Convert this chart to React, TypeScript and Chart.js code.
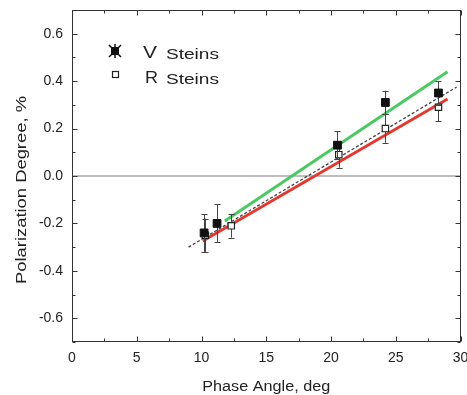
import React, { useEffect, useRef } from 'react';
import { Chart, registerables } from 'chart.js';

Chart.register(...registerables);

// Data
const V_PHASE = [10.2, 11.2, 20.5, 24.2, 28.3];
const V_POL = [-0.24, -0.2, 0.13, 0.31, 0.35];
const V_ERR = [0.08, 0.08, 0.06, 0.05, 0.05];

const R_PHASE = [10.3, 12.3, 20.6, 24.2, 28.3];
const R_POL = [-0.25, -0.21, 0.09, 0.2, 0.29];
const R_ERR = [0.07, 0.05, 0.055, 0.06, 0.06];

const GREEN_FIT_X = [11.8, 29.0];
const GREEN_FIT_Y = [-0.19, 0.44];
const RED_FIT_X = [10.1, 29.0];
const RED_FIT_Y = [-0.274, 0.325];
const BLACK_FIT_X = [9.0, 29.7];
const BLACK_FIT_Y = [-0.3, 0.375];
const ZERO_X = [0, 30];
const ZERO_Y = [0, 0];

const X_TICKS = [0, 5, 10, 15, 20, 25, 30];
const X_MINOR = [2.5, 7.5, 12.5, 17.5, 22.5, 27.5];
const Y_TICKS = [-0.6, -0.4, -0.2, 0, 0.2, 0.4, 0.6];
const Y_MINOR = [-0.7, -0.5, -0.3, -0.1, 0.1, 0.3, 0.5, 0.7];

const X_TITLE = 'Phase Angle, deg';
const Y_TITLE = 'Polarization Degree, %';
const LEGEND_V = ['V', 'Steins'];
const LEGEND_R = ['R', 'Steins'];

const FONT = 'Arial, "Liberation Sans", Helvetica, sans-serif';
const TEXT = '#222';

const pts = (xs: number[], ys: number[]) => xs.map((x, i) => ({ x, y: ys[i] }));

function stretchText(
  ctx: CanvasRenderingContext2D,
  text: string,
  x: number,
  y: number,
  size: number,
  width: number,
  align: CanvasTextAlign,
  rotate = false
) {
  ctx.save();
  ctx.font = `${size}px ${FONT}`;
  const w = ctx.measureText(text).width;
  const sx = width ? width / w : 1;
  ctx.translate(x, y);
  if (rotate) ctx.rotate(-Math.PI / 2);
  ctx.scale(sx, 1);
  ctx.textAlign = align;
  ctx.textBaseline = 'alphabetic';
  ctx.fillStyle = TEXT;
  ctx.fillText(text, 0, 0);
  ctx.restore();
}

const errorBarPlugin = {
  id: 'errorBars',
  beforeDatasetDraw(chart: any, args: any) {
    const ds = chart.data.datasets[args.index];
    if (!ds.errors) return;
    const { ctx, scales } = chart;
    const xs = scales.x;
    const ys = scales.y;
    ctx.save();
    ctx.strokeStyle = '#444';
    ctx.lineWidth = 1;
    ds.data.forEach((p: any, i: number) => {
      const e = ds.errors[i];
      const px = Math.round(xs.getPixelForValue(p.x)) + 0.5;
      const top = ys.getPixelForValue(p.y + e);
      const bot = ys.getPixelForValue(p.y - e);
      ctx.beginPath();
      ctx.moveTo(px, top);
      ctx.lineTo(px, bot);
      ctx.moveTo(px - 3, Math.round(top) + 0.5);
      ctx.lineTo(px + 3, Math.round(top) + 0.5);
      ctx.moveTo(px - 3, Math.round(bot) + 0.5);
      ctx.lineTo(px + 3, Math.round(bot) + 0.5);
      ctx.stroke();
    });
    ctx.restore();
  },
};

const framePlugin = {
  id: 'frame',
  afterDraw(chart: any) {
    const { ctx, chartArea: a, scales } = chart;
    const xs = scales.x;
    const ys = scales.y;
    ctx.save();
    ctx.strokeStyle = '#333';
    ctx.lineWidth = 1;
    const L = Math.round(a.left) + 0.5;
    const R = Math.round(a.right) - 0.5;
    const T = Math.round(a.top) + 0.5;
    const B = Math.round(a.bottom) - 0.5;
    ctx.strokeRect(L, T, R - L, B - T);
    ctx.beginPath();
    const xTick = (v: number, len: number) => {
      const px = Math.round(xs.getPixelForValue(v)) + 0.5;
      ctx.moveTo(px, B);
      ctx.lineTo(px, B - len);
      ctx.moveTo(px, T);
      ctx.lineTo(px, T + len);
    };
    const yTick = (v: number, len: number) => {
      const py = Math.round(ys.getPixelForValue(v)) + 0.5;
      ctx.moveTo(L, py);
      ctx.lineTo(L + len, py);
      ctx.moveTo(R, py);
      ctx.lineTo(R - len, py);
    };
    X_TICKS.forEach((v) => xTick(v, 5));
    X_MINOR.forEach((v) => xTick(v, 3));
    Y_TICKS.forEach((v) => yTick(v, 5));
    Y_MINOR.forEach((v) => yTick(v, 3));
    ctx.stroke();

    // axis titles
    stretchText(ctx, X_TITLE, (a.left + a.right) / 2, 391, 14, 128, 'center');
    stretchText(ctx, Y_TITLE, 26, 190, 14, 188, 'center', true);

    // legend
    ctx.fillStyle = '#111';
    ctx.fillRect(111, 47, 8, 8);
    ctx.strokeStyle = '#111';
    ctx.lineWidth = 1.5;
    ctx.beginPath();
    ctx.moveTo(109, 45);
    ctx.lineTo(121, 57);
    ctx.moveTo(121, 45);
    ctx.lineTo(109, 57);
    ctx.moveTo(115, 44);
    ctx.lineTo(115, 58);
    ctx.stroke();
    ctx.fillStyle = '#fff';
    ctx.fillRect(112, 71, 6, 6);
    ctx.lineWidth = 1.2;
    ctx.strokeStyle = '#222';
    ctx.strokeRect(112.5, 71.5, 6, 6);

    stretchText(ctx, LEGEND_V[0], 143, 58, 17, 14, 'left');
    stretchText(ctx, LEGEND_V[1], 166, 59, 15, 53, 'left');
    stretchText(ctx, LEGEND_R[0], 145, 83, 17, 13, 'left');
    stretchText(ctx, LEGEND_R[1], 166, 84, 15, 53, 'left');
    ctx.restore();
  },
};

export default function App() {
  const ref = useRef<HTMLCanvasElement | null>(null);

  useEffect(() => {
    if (!ref.current) return;
    const chart = new Chart(ref.current, {
      type: 'scatter',
      data: {
        datasets: [
          {
            label: 'V Steins',
            data: pts(V_PHASE, V_POL),
            errors: V_ERR,
            pointStyle: 'rect',
            pointRadius: 5.5,
            backgroundColor: '#111',
            borderColor: '#111',
            borderWidth: 1,
            showLine: false,
            order: 0,
          } as any,
          {
            label: 'R Steins',
            data: pts(R_PHASE, R_POL),
            errors: R_ERR,
            pointStyle: 'rect',
            pointRadius: 4.5,
            backgroundColor: '#fff',
            borderColor: '#222',
            borderWidth: 1.2,
            showLine: false,
            order: 1,
          } as any,
          {
            label: 'V fit',
            data: pts(GREEN_FIT_X, GREEN_FIT_Y),
            showLine: true,
            borderColor: '#4cc864',
            borderWidth: 3,
            pointRadius: 0,
            order: 2,
          },
          {
            label: 'common fit',
            data: pts(BLACK_FIT_X, BLACK_FIT_Y),
            showLine: true,
            borderColor: '#444',
            borderWidth: 1.3,
            borderDash: [3, 2],
            pointRadius: 0,
            order: 3,
          },
          {
            label: 'R fit',
            data: pts(RED_FIT_X, RED_FIT_Y),
            showLine: true,
            borderColor: '#e23a30',
            borderWidth: 3,
            pointRadius: 0,
            order: 4,
          },
          {
            label: 'zero',
            data: pts(ZERO_X, ZERO_Y),
            showLine: true,
            borderColor: '#bdbdbd',
            borderWidth: 2,
            pointRadius: 0,
            order: 5,
          },
        ],
      },
      options: {
        responsive: false,
        animation: false,
        layout: { padding: { left: 0, top: 10, right: 4, bottom: 0 } },
        plugins: {
          legend: { display: false },
          tooltip: { enabled: false },
        },
        scales: {
          x: {
            type: 'linear',
            min: 0,
            max: 30,
            grid: { display: false, drawTicks: false },
            border: { display: false },
            afterBuildTicks: (s: any) => {
              s.ticks = X_TICKS.map((value) => ({ value }));
            },
            afterFit: (s: any) => {
              s.height = 53;
              s.paddingLeft = 0;
              s.paddingRight = 0;
            },
            ticks: {
              autoSkip: false,
              maxRotation: 0,
              padding: 8,
              color: TEXT,
              font: { size: 14, family: FONT },
              callback: (v: any) => String(v),
            },
          },
          y: {
            type: 'linear',
            min: -0.7,
            max: 0.7,
            grid: { display: false, drawTicks: false },
            border: { display: false },
            afterBuildTicks: (s: any) => {
              s.ticks = Y_TICKS.map((value) => ({ value }));
            },
            afterFit: (s: any) => {
              s.width = 72;
              s.paddingTop = 0;
              s.paddingBottom = 0;
            },
            ticks: {
              autoSkip: false,
              padding: 9,
              color: TEXT,
              font: { size: 14, family: FONT },
              callback: (v: any) => Number(v).toFixed(1),
            },
          },
        },
      },
      plugins: [errorBarPlugin, framePlugin],
    } as any);
    return () => chart.destroy();
  }, []);

  return (
    <div style={{ position: 'absolute', left: 0, top: 0, width: 467, height: 395, background: '#fff' }}>
      <canvas ref={ref} width={467} height={395} style={{ display: 'block' }} />
    </div>
  );
}
